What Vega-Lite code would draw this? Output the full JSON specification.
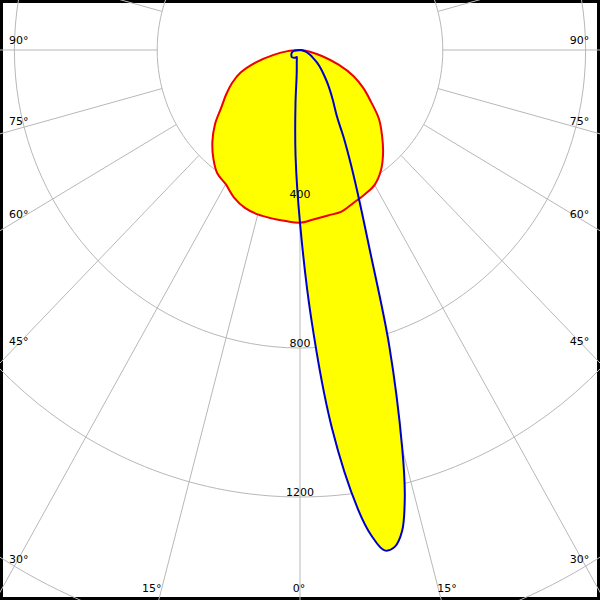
{
  "$schema": "https://vega.github.io/schema/vega-lite/v6.json",
  "width": 600,
  "height": 600,
  "autosize": {"type": "fit", "contains": "padding"},
  "padding": 0,
  "background": "white",
  "config": {"view": {"stroke": "black", "strokeWidth": 6}},
  "datasets": {
    "curves": [
      {"plane": "C0", "a": -90, "I": 0}, {"plane": "C0", "a": -85, "I": 35}, {"plane": "C0", "a": -80, "I": 75},
      {"plane": "C0", "a": -75, "I": 128}, {"plane": "C0", "a": -70, "I": 177}, {"plane": "C0", "a": -65, "I": 210},
      {"plane": "C0", "a": -60, "I": 239}, {"plane": "C0", "a": -55, "I": 269}, {"plane": "C0", "a": -50, "I": 311},
      {"plane": "C0", "a": -45, "I": 347}, {"plane": "C0", "a": -40, "I": 378}, {"plane": "C0", "a": -35, "I": 404},
      {"plane": "C0", "a": -30, "I": 416}, {"plane": "C0", "a": -25, "I": 437}, {"plane": "C0", "a": -20, "I": 451},
      {"plane": "C0", "a": -15, "I": 457}, {"plane": "C0", "a": -10, "I": 459}, {"plane": "C0", "a": -5, "I": 461},
      {"plane": "C0", "a": 0, "I": 464}, {"plane": "C0", "a": 5, "I": 456}, {"plane": "C0", "a": 10, "I": 451},
      {"plane": "C0", "a": 15, "I": 449}, {"plane": "C0", "a": 20, "I": 437}, {"plane": "C0", "a": 25, "I": 428},
      {"plane": "C0", "a": 30, "I": 418}, {"plane": "C0", "a": 35, "I": 395}, {"plane": "C0", "a": 40, "I": 362},
      {"plane": "C0", "a": 45, "I": 325}, {"plane": "C0", "a": 50, "I": 289}, {"plane": "C0", "a": 55, "I": 243},
      {"plane": "C0", "a": 60, "I": 205}, {"plane": "C0", "a": 65, "I": 165}, {"plane": "C0", "a": 70, "I": 115},
      {"plane": "C0", "a": 75, "I": 65}, {"plane": "C0", "a": 80, "I": 28}, {"plane": "C0", "a": 85, "I": 12},
      {"plane": "C0", "a": 90, "I": 0},
      {"plane": "C90", "a": -90, "I": 0}, {"plane": "C90", "a": -80, "I": 20}, {"plane": "C90", "a": -70, "I": 25},
      {"plane": "C90", "a": -60, "I": 28}, {"plane": "C90", "a": -50, "I": 30}, {"plane": "C90", "a": -40, "I": 27},
      {"plane": "C90", "a": -30, "I": 23}, {"plane": "C90", "a": -25, "I": 21}, {"plane": "C90", "a": -20, "I": 26},
      {"plane": "C90", "a": -15, "I": 35}, {"plane": "C90", "a": -10, "I": 52}, {"plane": "C90", "a": -7.5, "I": 73},
      {"plane": "C90", "a": -5, "I": 145}, {"plane": "C90", "a": -2.5, "I": 285}, {"plane": "C90", "a": 0, "I": 464},
      {"plane": "C90", "a": 2.5, "I": 722}, {"plane": "C90", "a": 5, "I": 1015}, {"plane": "C90", "a": 7.5, "I": 1243},
      {"plane": "C90", "a": 8.75, "I": 1320}, {"plane": "C90", "a": 10, "I": 1364}, {"plane": "C90", "a": 11.25, "I": 1360},
      {"plane": "C90", "a": 12.5, "I": 1322}, {"plane": "C90", "a": 13.75, "I": 1235}, {"plane": "C90", "a": 15, "I": 1106},
      {"plane": "C90", "a": 17.5, "I": 830}, {"plane": "C90", "a": 20, "I": 572}, {"plane": "C90", "a": 22.5, "I": 430},
      {"plane": "C90", "a": 25, "I": 335}, {"plane": "C90", "a": 27.5, "I": 265}, {"plane": "C90", "a": 30, "I": 208},
      {"plane": "C90", "a": 35, "I": 158}, {"plane": "C90", "a": 40, "I": 123}, {"plane": "C90", "a": 45, "I": 95},
      {"plane": "C90", "a": 50, "I": 75}, {"plane": "C90", "a": 55, "I": 57}, {"plane": "C90", "a": 60, "I": 42},
      {"plane": "C90", "a": 65, "I": 31}, {"plane": "C90", "a": 70, "I": 22}, {"plane": "C90", "a": 75, "I": 15},
      {"plane": "C90", "a": 80, "I": 8}, {"plane": "C90", "a": 85, "I": 3}, {"plane": "C90", "a": 90, "I": 0}
    ],
    "rings": [
      {"ring": 400, "a": [-180,-170,-160,-150,-140,-130,-120,-110,-100,-90,-80,-70,-60,-50,-40,-30,-20,-10,0,10,20,30,40,50,60,70,80,90,100,110,120,130,140,150,160,170,180]},
      {"ring": 800, "a": [-180,-170,-160,-150,-140,-130,-120,-110,-100,-90,-80,-70,-60,-50,-40,-30,-20,-10,0,10,20,30,40,50,60,70,80,90,100,110,120,130,140,150,160,170,180]},
      {"ring": 1200, "a": [-180,-170,-160,-150,-140,-130,-120,-110,-100,-90,-80,-70,-60,-50,-40,-30,-20,-10,0,10,20,30,40,50,60,70,80,90,100,110,120,130,140,150,160,170,180]},
      {"ring": 1600, "a": [-180,-170,-160,-150,-140,-130,-120,-110,-100,-90,-80,-70,-60,-50,-40,-30,-20,-10,0,10,20,30,40,50,60,70,80,90,100,110,120,130,140,150,160,170,180]}
    ],
    "spokes": [
      {"r": 400, "a": [-120,-105,-90,-75,-60,-45,-30,-15,0,15,30,45,60,75,90,105,120]},
      {"r": 2600, "a": [-120,-105,-90,-75,-60,-45,-30,-15,0,15,30,45,60,75,90,105,120]}
    ],
    "valueLabels": [
      {"t": "400", "r": 400}, {"t": "800", "r": 800}, {"t": "1200", "r": 1200}
    ],
    "leftLabels": [
      {"t": "90°", "x": -815, "y": 22.8}, {"t": "75°", "x": -815, "y": -192.5},
      {"t": "60°", "x": -815, "y": -443}, {"t": "45°", "x": -815, "y": -783},
      {"t": "30°", "x": -815, "y": -1370}
    ],
    "rightLabels": [
      {"t": "90°", "x": 810, "y": 22.8}, {"t": "75°", "x": 810, "y": -192.5},
      {"t": "60°", "x": 810, "y": -443}, {"t": "45°", "x": 810, "y": -783},
      {"t": "30°", "x": 810, "y": -1370}
    ],
    "bottomLabels": [
      {"t": "15°", "x": -415, "y": -1447}, {"t": "0°", "x": -3, "y": -1447}, {"t": "15°", "x": 412, "y": -1447}
    ]
  },
  "layer": [
    {
      "data": {"name": "rings"},
      "transform": [
        {"flatten": ["a"]},
        {"calculate": "datum.ring * sin(datum.a * PI / 180)", "as": "x"},
        {"calculate": "-datum.ring * cos(datum.a * PI / 180)", "as": "y"}
      ],
      "mark": {"type": "line", "stroke": "#b8b8b8", "strokeWidth": 1, "clip": true, "interpolate": "cardinal"},
      "encoding": {
        "x": {"field": "x", "type": "quantitative", "scale": {"domain": [-840.3, 840.3], "nice": false, "zero": false}, "axis": null},
        "y": {"field": "y", "type": "quantitative", "scale": {"domain": [-1476.5, 134.2], "nice": false, "zero": false}, "axis": null},
        "detail": {"field": "ring"},
        "order": {"field": "a", "type": "quantitative"}
      }
    },
    {
      "data": {"name": "spokes"},
      "transform": [
        {"flatten": ["a"]},
        {"calculate": "datum.r * sin(datum.a * PI / 180)", "as": "x"},
        {"calculate": "-datum.r * cos(datum.a * PI / 180)", "as": "y"}
      ],
      "mark": {"type": "line", "stroke": "#b8b8b8", "strokeWidth": 1, "clip": true},
      "encoding": {
        "x": {"field": "x", "type": "quantitative"},
        "y": {"field": "y", "type": "quantitative"},
        "detail": {"field": "a"},
        "order": {"field": "r", "type": "quantitative"}
      }
    },
    {
      "data": {"name": "curves"},
      "transform": [
        {"calculate": "datum.I * sin(datum.a * PI / 180)", "as": "x"},
        {"calculate": "-datum.I * cos(datum.a * PI / 180)", "as": "y"}
      ],
      "mark": {"type": "line", "filled": true, "fill": "#ffff00", "strokeWidth": 0, "clip": true, "interpolate": "catmull-rom"},
      "encoding": {
        "x": {"field": "x", "type": "quantitative"},
        "y": {"field": "y", "type": "quantitative"},
        "detail": {"field": "plane"},
        "order": {"field": "a", "type": "quantitative"}
      }
    },
    {
      "data": {"name": "valueLabels"},
      "transform": [
        {"calculate": "0", "as": "x"},
        {"calculate": "-datum.r", "as": "y"}
      ],
      "mark": {"type": "text", "font": "DejaVu Sans", "fontSize": 11, "align": "center", "baseline": "alphabetic", "dy": -1, "color": "black"},
      "encoding": {
        "x": {"field": "x", "type": "quantitative"},
        "y": {"field": "y", "type": "quantitative"},
        "text": {"field": "t"}
      }
    },
    {
      "data": {"name": "curves"},
      "transform": [
        {"filter": "datum.plane === 'C0'"},
        {"calculate": "datum.I * sin(datum.a * PI / 180)", "as": "x"},
        {"calculate": "-datum.I * cos(datum.a * PI / 180)", "as": "y"}
      ],
      "mark": {"type": "line", "stroke": "#ee0000", "strokeWidth": 2, "clip": true, "interpolate": "catmull-rom"},
      "encoding": {
        "x": {"field": "x", "type": "quantitative"},
        "y": {"field": "y", "type": "quantitative"},
        "order": {"field": "a", "type": "quantitative"}
      }
    },
    {
      "data": {"name": "curves"},
      "transform": [
        {"filter": "datum.plane === 'C90'"},
        {"calculate": "datum.I * sin(datum.a * PI / 180)", "as": "x"},
        {"calculate": "-datum.I * cos(datum.a * PI / 180)", "as": "y"}
      ],
      "mark": {"type": "line", "stroke": "#0000cc", "strokeWidth": 2, "clip": true, "interpolate": "catmull-rom"},
      "encoding": {
        "x": {"field": "x", "type": "quantitative"},
        "y": {"field": "y", "type": "quantitative"},
        "order": {"field": "a", "type": "quantitative"}
      }
    },
    {
      "data": {"name": "leftLabels"},
      "mark": {"type": "text", "font": "DejaVu Sans", "fontSize": 11, "align": "left", "baseline": "middle", "color": "black"},
      "encoding": {
        "x": {"field": "x", "type": "quantitative"},
        "y": {"field": "y", "type": "quantitative"},
        "text": {"field": "t"}
      }
    },
    {
      "data": {"name": "rightLabels"},
      "mark": {"type": "text", "font": "DejaVu Sans", "fontSize": 11, "align": "right", "baseline": "middle", "color": "black"},
      "encoding": {
        "x": {"field": "x", "type": "quantitative"},
        "y": {"field": "y", "type": "quantitative"},
        "text": {"field": "t"}
      }
    },
    {
      "data": {"name": "bottomLabels"},
      "mark": {"type": "text", "font": "DejaVu Sans", "fontSize": 11, "align": "center", "baseline": "middle", "color": "black"},
      "encoding": {
        "x": {"field": "x", "type": "quantitative"},
        "y": {"field": "y", "type": "quantitative"},
        "text": {"field": "t"}
      }
    }
  ]
}
